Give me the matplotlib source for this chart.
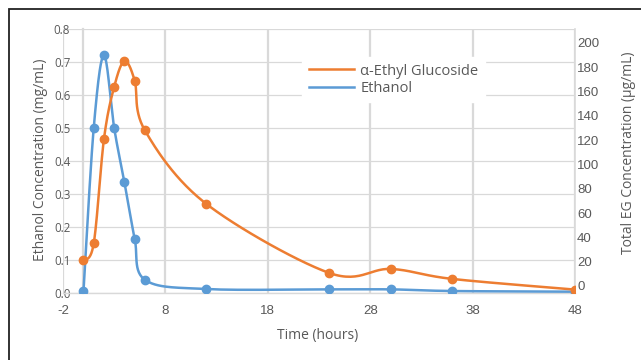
import numpy as np
import matplotlib
matplotlib.use("Agg")
import matplotlib.pyplot as plt
from matplotlib.lines import Line2D
from matplotlib.patches import Rectangle

# ---- data ----
time_eth = [0, 1, 2, 3, 4, 5, 6, 12, 24, 30, 36, 48]
ethanol = [0.005, 0.50, 0.72, 0.50, 0.335, 0.165, 0.040, 0.012, 0.011, 0.011, 0.006, 0.004]
time_eg = [0, 1, 2, 3, 4, 5, 6, 12, 24, 30, 36, 48]
eg = [21, 35, 121, 164, 185, 169, 128, 67.5, 10.7, 14, 5.8, -3]
x_ticks = [-2, 8, 18, 28, 38, 48]
left_ticks = [0.0, 0.1, 0.2, 0.3, 0.4, 0.5, 0.6, 0.7, 0.8]
right_ticks = [0, 20, 40, 60, 80, 100, 120, 140, 160, 180, 200]

ORANGE = "#ED7D31"
BLUE = "#5B9BD5"
GRID = "#D9D9D9"
TXT = "#595959"
FONT = ["Open Sans", "DejaVu Sans"]
NARROW = ["Liberation Sans Narrow", "Liberation Sans", "DejaVu Sans"]
plt.rcParams["font.family"] = FONT


def smooth(xs, ys, n=30):
    """Catmull-Rom style (Excel-like) smoothing of a polyline for drawing."""
    P = np.column_stack([xs, ys]).astype(float)
    ext = np.vstack([P[0], P, P[-1]])
    out = []
    t = np.linspace(0, 1, n)[:, None]
    for i in range(1, len(ext) - 2):
        p0, p1, p2, p3 = ext[i - 1], ext[i], ext[i + 1], ext[i + 2]
        c1 = p1 + (p2 - p0) / 6.0
        c2 = p2 - (p3 - p1) / 6.0
        seg = ((1 - t) ** 3) * p1 + 3 * ((1 - t) ** 2) * t * c1 + 3 * (1 - t) * t ** 2 * c2 + t ** 3 * p2
        out.append(seg if i == 1 else seg[1:])
    arr = np.vstack(out)
    return arr[:, 0], arr[:, 1]


W, H = 641, 360
fig = plt.figure(figsize=(W / 100, H / 100), dpi=100)
fig.patch.set_facecolor("white")

x0, x1, y0, y1 = 63, 575, 29, 293
ax = fig.add_axes([x0 / W, 1 - y1 / H, (x1 - x0) / W, (y1 - y0) / H])
ax.set_xlim(-2, 48)
ax.set_ylim(0, 0.8)

# gridlines
for v in left_ticks:
    ax.axhline(v, color=GRID, lw=0.9, zorder=0)
for v in x_ticks:
    ax.axvline(v, color=GRID, lw=1.6, zorder=0)

for s in ["top", "right"]:
    ax.spines[s].set_visible(False)
ax.spines["left"].set_position(("data", 0))
ax.spines["left"].set_color(GRID)
ax.spines["left"].set_linewidth(1.6)
ax.spines["bottom"].set_color(GRID)
ax.spines["bottom"].set_linewidth(1.0)

ax.set_xticks(x_ticks)
ax.set_xticklabels([str(v) for v in x_ticks], family=NARROW, fontsize=9.5, color=TXT)
ax.set_yticks(left_ticks)
ax.set_yticklabels([f"{v:.1f}" for v in left_ticks], fontsize=8.3, color=TXT)
ax.tick_params(axis="y", length=0, pad=9.5)
ax.tick_params(axis="x", length=0, pad=9)

sx, sy = smooth(time_eth, ethanol)
ax.plot(sx, sy, color=BLUE, lw=1.8, zorder=3, solid_capstyle="round")
ax.plot(time_eth, ethanol, "o", color=BLUE, ms=6, zorder=4)

ax2 = ax.twinx()
ax2.set_ylim(-5.8, 211.5)
ax2.set_yticks(right_ticks)
ax2.set_yticklabels([str(v) for v in right_ticks], family=NARROW, fontsize=9.5, color=TXT)
ax2.tick_params(axis="y", length=0, pad=1.5)
for s in ["top", "left", "bottom"]:
    ax2.spines[s].set_visible(False)
ax2.spines["right"].set_color(GRID)
ax2.spines["right"].set_linewidth(1.2)

ex, ey = smooth(time_eg, eg)
ax2.plot(ex, ey, color=ORANGE, lw=1.8, zorder=3, solid_capstyle="round")
ax2.plot(time_eg, eg, "o", color=ORANGE, ms=6, zorder=4)

handles = [Line2D([], [], color=ORANGE, lw=1.8), Line2D([], [], color=BLUE, lw=1.8)]
leg = ax2.legend(handles, ["α-Ethyl Glucoside", "Ethanol"], loc="upper left",
                 bbox_to_anchor=(302 / W, 1 - 57 / H), bbox_transform=fig.transFigure,
                 frameon=True, fancybox=False, framealpha=1, edgecolor="white",
                 facecolor="white", fontsize=10.5, handlelength=3.1, handletextpad=0.45,
                 labelspacing=0.15, borderpad=0.45, borderaxespad=0)
for t in leg.get_texts():
    t.set_color(TXT)

fig.text(318 / W, 1 - 335 / H, "Time (hours)", ha="center", va="center",
         fontsize=10, color=TXT)
fig.text(41 / W, 1 - 160 / H, "Ethanol Concentration (mg/mL)", ha="center", va="center",
         rotation=90, fontsize=10, color=TXT)
fig.text(629 / W, 1 - 153 / H, "Total EG Concentration (µg/mL)", ha="center", va="center",
         rotation=90, fontsize=10, color=TXT)

fig.patches.append(Rectangle((8.5 / W, -0.2), 1.2, 1.2 - 8.5 / H + 0.0,
                             transform=fig.transFigure, fill=False,
                             edgecolor="#222222", lw=1.3, clip_on=False))

fig.savefig("out.png", dpi=100)
